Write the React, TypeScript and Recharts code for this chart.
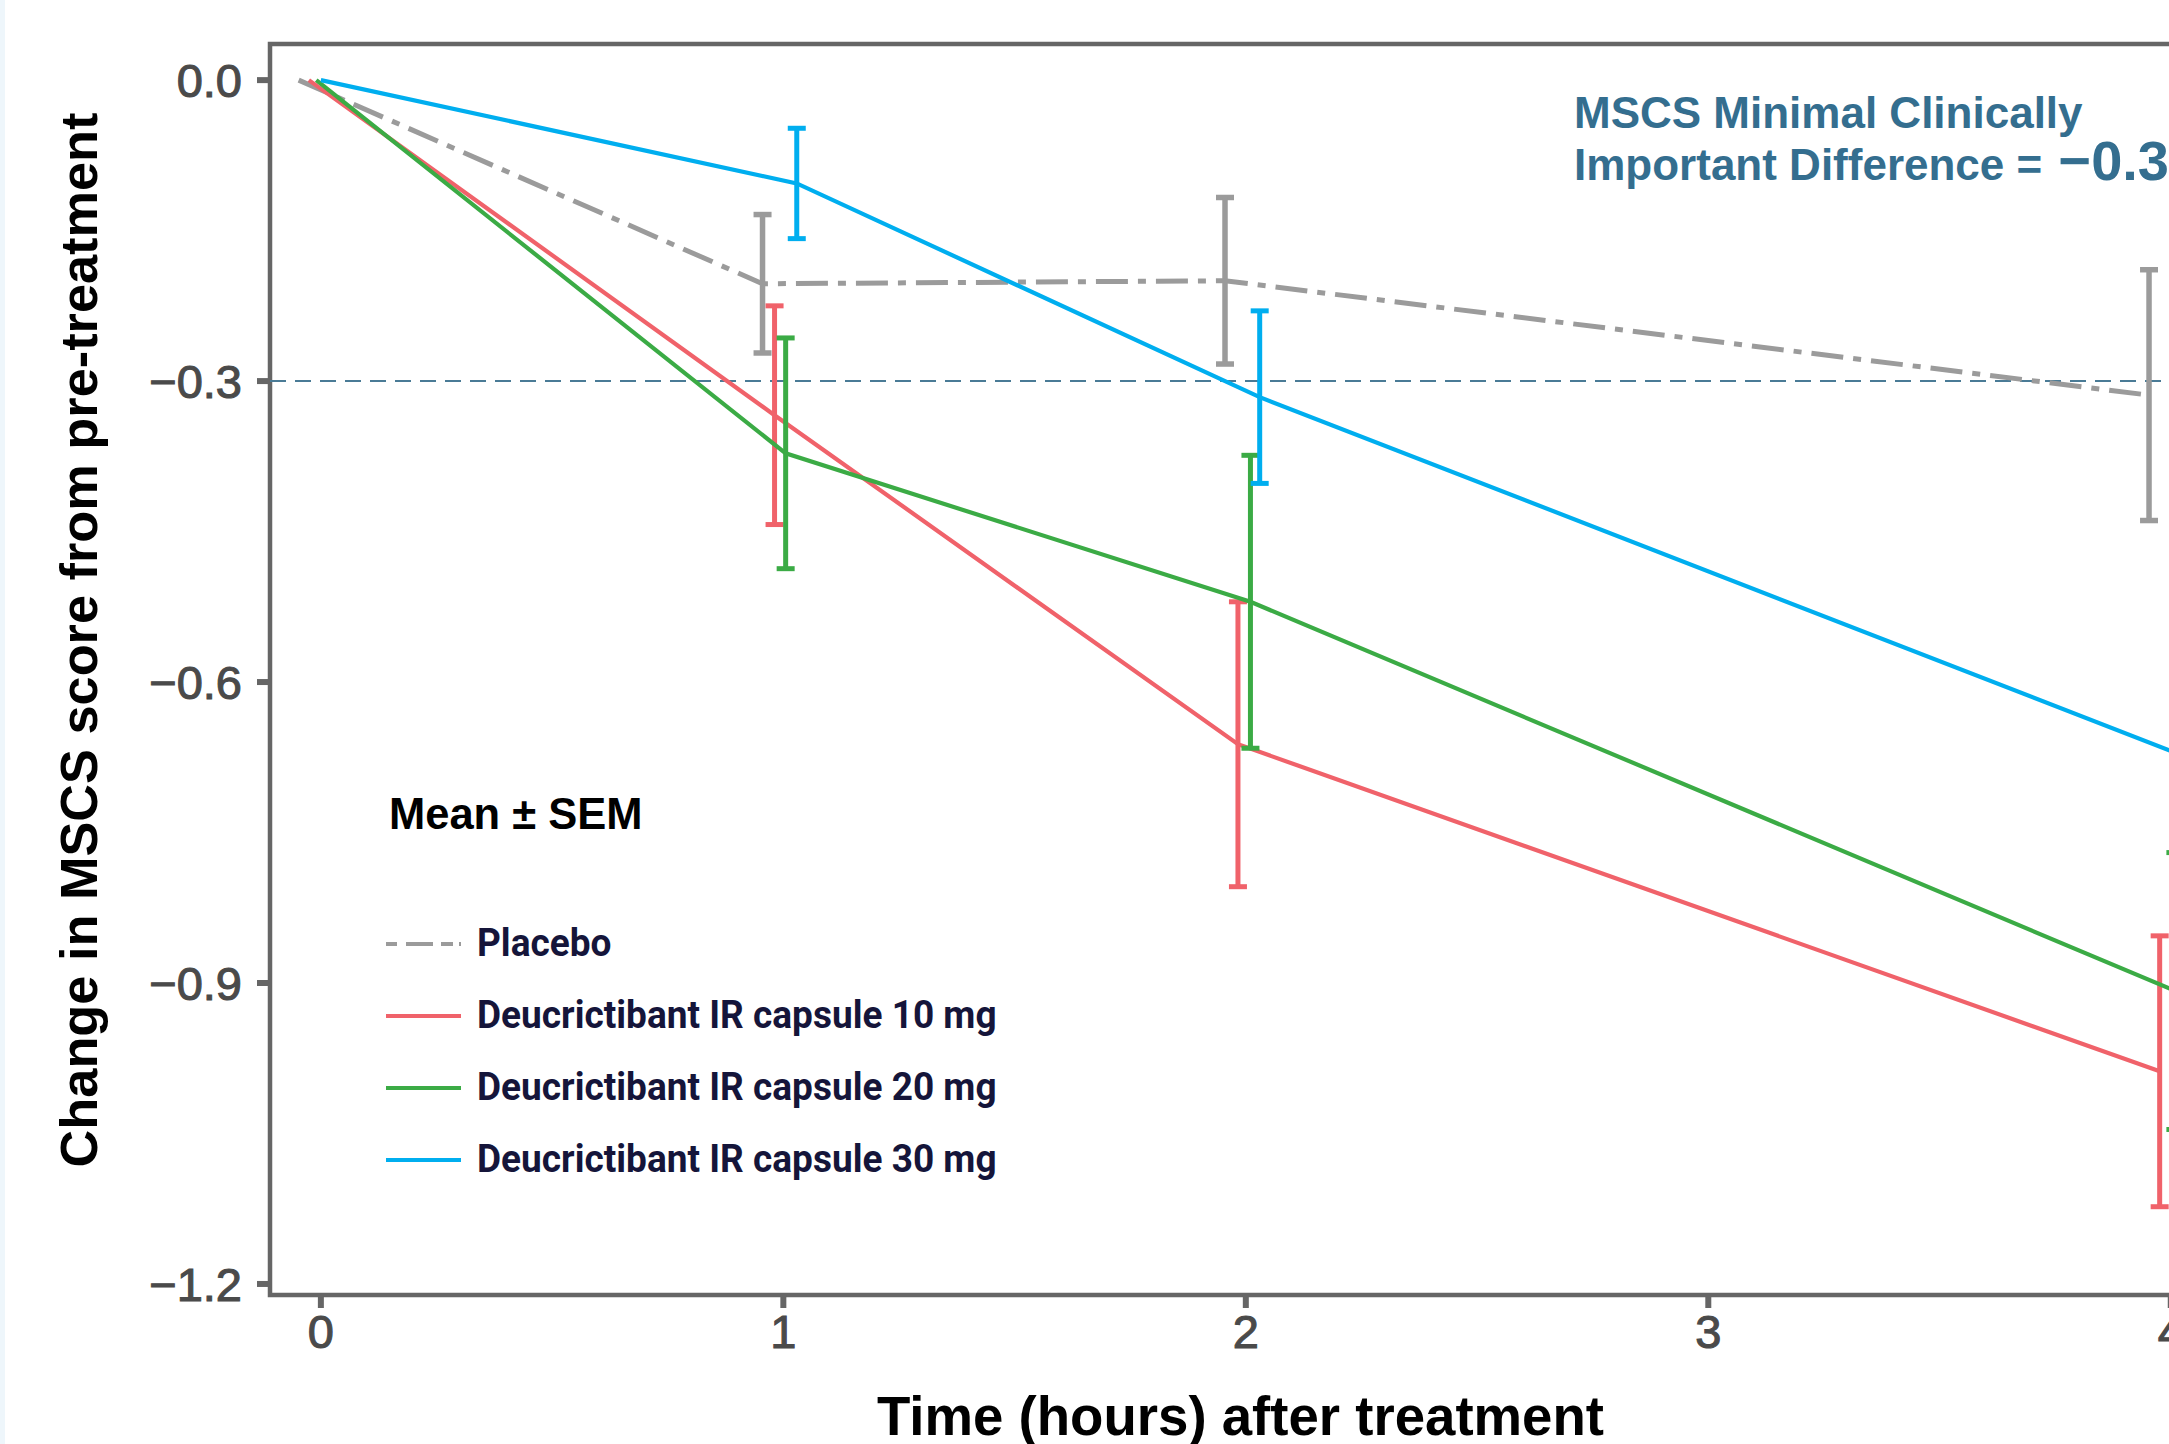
import React from "react";
import { LineChart, Line, XAxis, YAxis, ErrorBar, ReferenceLine, ReferenceArea } from "recharts";

// groups, in drawing order
const groupNames = [
  "Placebo",
  "Deucrictibant IR capsule 10 mg",
  "Deucrictibant IR capsule 20 mg",
  "Deucrictibant IR capsule 30 mg",
];
const groupColors = ["#9b9b9b", "#f0626a", "#3bab45", "#00aeef"];

// hours after treatment (points are dodged a little per group)
const placeboTime = [-0.048, 0.955, 1.955, 3.953];
const dose10Time = [-0.026, 0.981, 1.983, 3.976];
const dose20Time = [-0.01, 1.005, 2.01, 4.01];
const dose30Time = [0.0, 1.029, 2.03, 4.03];

// mean change in MSCS score and SEM
const placeboMean = [0, -0.203, -0.2, -0.314];
const placeboSem = [null, 0.069, 0.083, 0.125];
const dose10Mean = [0, -0.334, -0.662, -0.988];
const dose10Sem = [null, 0.109, 0.142, 0.135];
const dose20Mean = [0, -0.372, -0.52, -0.908];
const dose20Sem = [null, 0.115, 0.146, 0.138];
const dose30Mean = [0, -0.103, -0.316, -0.674];
const dose30Sem = [null, 0.055, 0.086, 0.12];

const xTicks = [0, 1, 2, 3, 4];
const xTickLabels = ["0", "1", "2", "3", "4"];
const yTicks = [0, -0.3, -0.6, -0.9, -1.2];
const yTickLabels = ["0.0", "\u22120.3", "\u22120.6", "\u22120.9", "\u22121.2"];

const mcid = -0.3;
const xTitle = "Time (hours) after treatment";
const yTitle = "Change in MSCS score from pre-treatment";
const legendTitle = "Mean \u00b1 SEM";

const X_DOMAIN: [number, number] = [-0.11, 4.087];
const Y_DOMAIN: [number, number] = [-1.211, 0.036];

const SANS = '"Liberation Sans", Arial, Helvetica, sans-serif';
const FRAME = "#666666";
const NOTE = "#346e8f";
const TICK_TEXT = {
  fill: "#4a4a4a",
  stroke: "#4a4a4a",
  strokeWidth: 1.1,
  fontSize: 47,
  fontFamily: SANS,
};

const groups = [
  { time: placeboTime, mean: placeboMean, sem: placeboSem },
  { time: dose10Time, mean: dose10Mean, sem: dose10Sem },
  { time: dose20Time, mean: dose20Mean, sem: dose20Sem },
  { time: dose30Time, mean: dose30Mean, sem: dose30Sem },
].map((g, gi) => ({
  name: groupNames[gi],
  color: groupColors[gi],
  data: g.time.map((t, i) => ({ x: t, y: g.mean[i], err: g.sem[i] })),
}));

function fmtX(v: number) {
  const i = xTicks.indexOf(v);
  return i >= 0 ? xTickLabels[i] : String(v);
}

function fmtY(v: number) {
  const i = yTicks.findIndex((t) => Math.abs(t - v) < 1e-9);
  return i >= 0 ? yTickLabels[i] : String(v);
}

function Legend() {
  const top = 944;
  const step = 72;
  return (
    <g>
      <text x={389} y={829} fontFamily={SANS} fontWeight={700} fontSize={43.5} fill="#000">
        {legendTitle}
      </text>
      {groups.map((g, i) => {
        const y = top + i * step;
        return (
          <g key={g.name}>
            <line
              x1={386}
              x2={461}
              y1={y}
              y2={y}
              stroke={g.color}
              strokeWidth={4}
              strokeDasharray={i === 0 ? "11 9 27 8 12 6 4 10" : undefined}
            />
            <text
              transform={`translate(477 ${y + 12}) scale(0.95 1)`}
              fontFamily="Roboto, sans-serif"
              fontWeight={700}
              fontSize={39}
              fill="#15153a"
            >
              {g.name}
            </text>
          </g>
        );
      })}
    </g>
  );
}

function Note() {
  return (
    <g fontFamily={SANS} fontWeight={700} fill={NOTE}>
      <text x={1574} y={128} fontSize={44}>
        MSCS Minimal Clinically
      </text>
      <text x={1574} y={180} fontSize={44}>
        Important Difference ={" "}
        <tspan dx={4} fontSize={56}>
          {"\u2212"}
          {Math.abs(mcid).toFixed(1)}
        </tspan>
      </text>
    </g>
  );
}

export default function App() {
  return (
    <div
      style={{
        position: "fixed",
        left: 0,
        top: 0,
        width: 2169,
        height: 1444,
        overflow: "hidden",
        background: "#ffffff",
      }}
    >
      <LineChart width={2260} height={1444} margin={{ top: 44, right: 49, bottom: 0, left: 0 }}>
        <XAxis
          type="number"
          dataKey="x"
          domain={X_DOMAIN}
          ticks={xTicks}
          allowDataOverflow
          tickFormatter={fmtX}
          axisLine={false}
          tickLine={{ stroke: FRAME, strokeWidth: 6 }}
          tickSize={13}
          tickMargin={7}
          height={149}
          tick={TICK_TEXT}
          label={{
            value: xTitle,
            position: "insideBottom",
            offset: 9,
            style: { fontFamily: SANS, fontWeight: 700, fontSize: 54.6, fill: "#000" },
          }}
        />
        <YAxis
          type="number"
          dataKey="y"
          domain={Y_DOMAIN}
          ticks={yTicks}
          allowDataOverflow
          tickFormatter={fmtY}
          axisLine={false}
          tickLine={{ stroke: FRAME, strokeWidth: 6 }}
          tickSize={13}
          tickMargin={15}
          width={270}
          tick={TICK_TEXT}
          label={{
            content: () => (
              <text
                x={97}
                y={640}
                transform="rotate(-90 97 640)"
                textAnchor="middle"
                fontFamily={SANS}
                fontWeight={700}
                fontSize={52.3}
                fill="#000"
              >
                {yTitle}
              </text>
            ),
          }}
        />
        <ReferenceLine y={mcid} stroke="#4a7b96" strokeWidth={2} strokeDasharray="16 9" />
        {groups.map((g, i) => (
          <Line
            key={g.name}
            name={g.name}
            data={g.data}
            dataKey="y"
            type="linear"
            stroke={g.color}
            strokeWidth={i === 0 ? 5 : 4.2}
            strokeDasharray={i === 0 ? "32 10 8 10" : undefined}
            dot={false}
            activeDot={false}
            isAnimationActive={false}
          >
            <ErrorBar
              dataKey="err"
              direction="y"
              width={9}
              stroke={g.color}
              strokeWidth={i === 0 ? 5.5 : 5}
              isAnimationActive={false}
            />
          </Line>
        ))}
        <ReferenceArea
          x1={X_DOMAIN[0]}
          x2={X_DOMAIN[1]}
          y1={Y_DOMAIN[0]}
          y2={Y_DOMAIN[1]}
          fill="none"
          fillOpacity={0}
          stroke={FRAME}
          strokeWidth={4.5}
        />
      </LineChart>
      <svg
        width={2169}
        height={1444}
        style={{ position: "absolute", left: 0, top: 0, pointerEvents: "none" }}
      >
        <Note />
        <Legend />
      </svg>
      <div
        style={{ position: "absolute", left: 0, top: 0, width: 5, height: 1444, background: "#eef6fb" }}
      />
    </div>
  );
}
